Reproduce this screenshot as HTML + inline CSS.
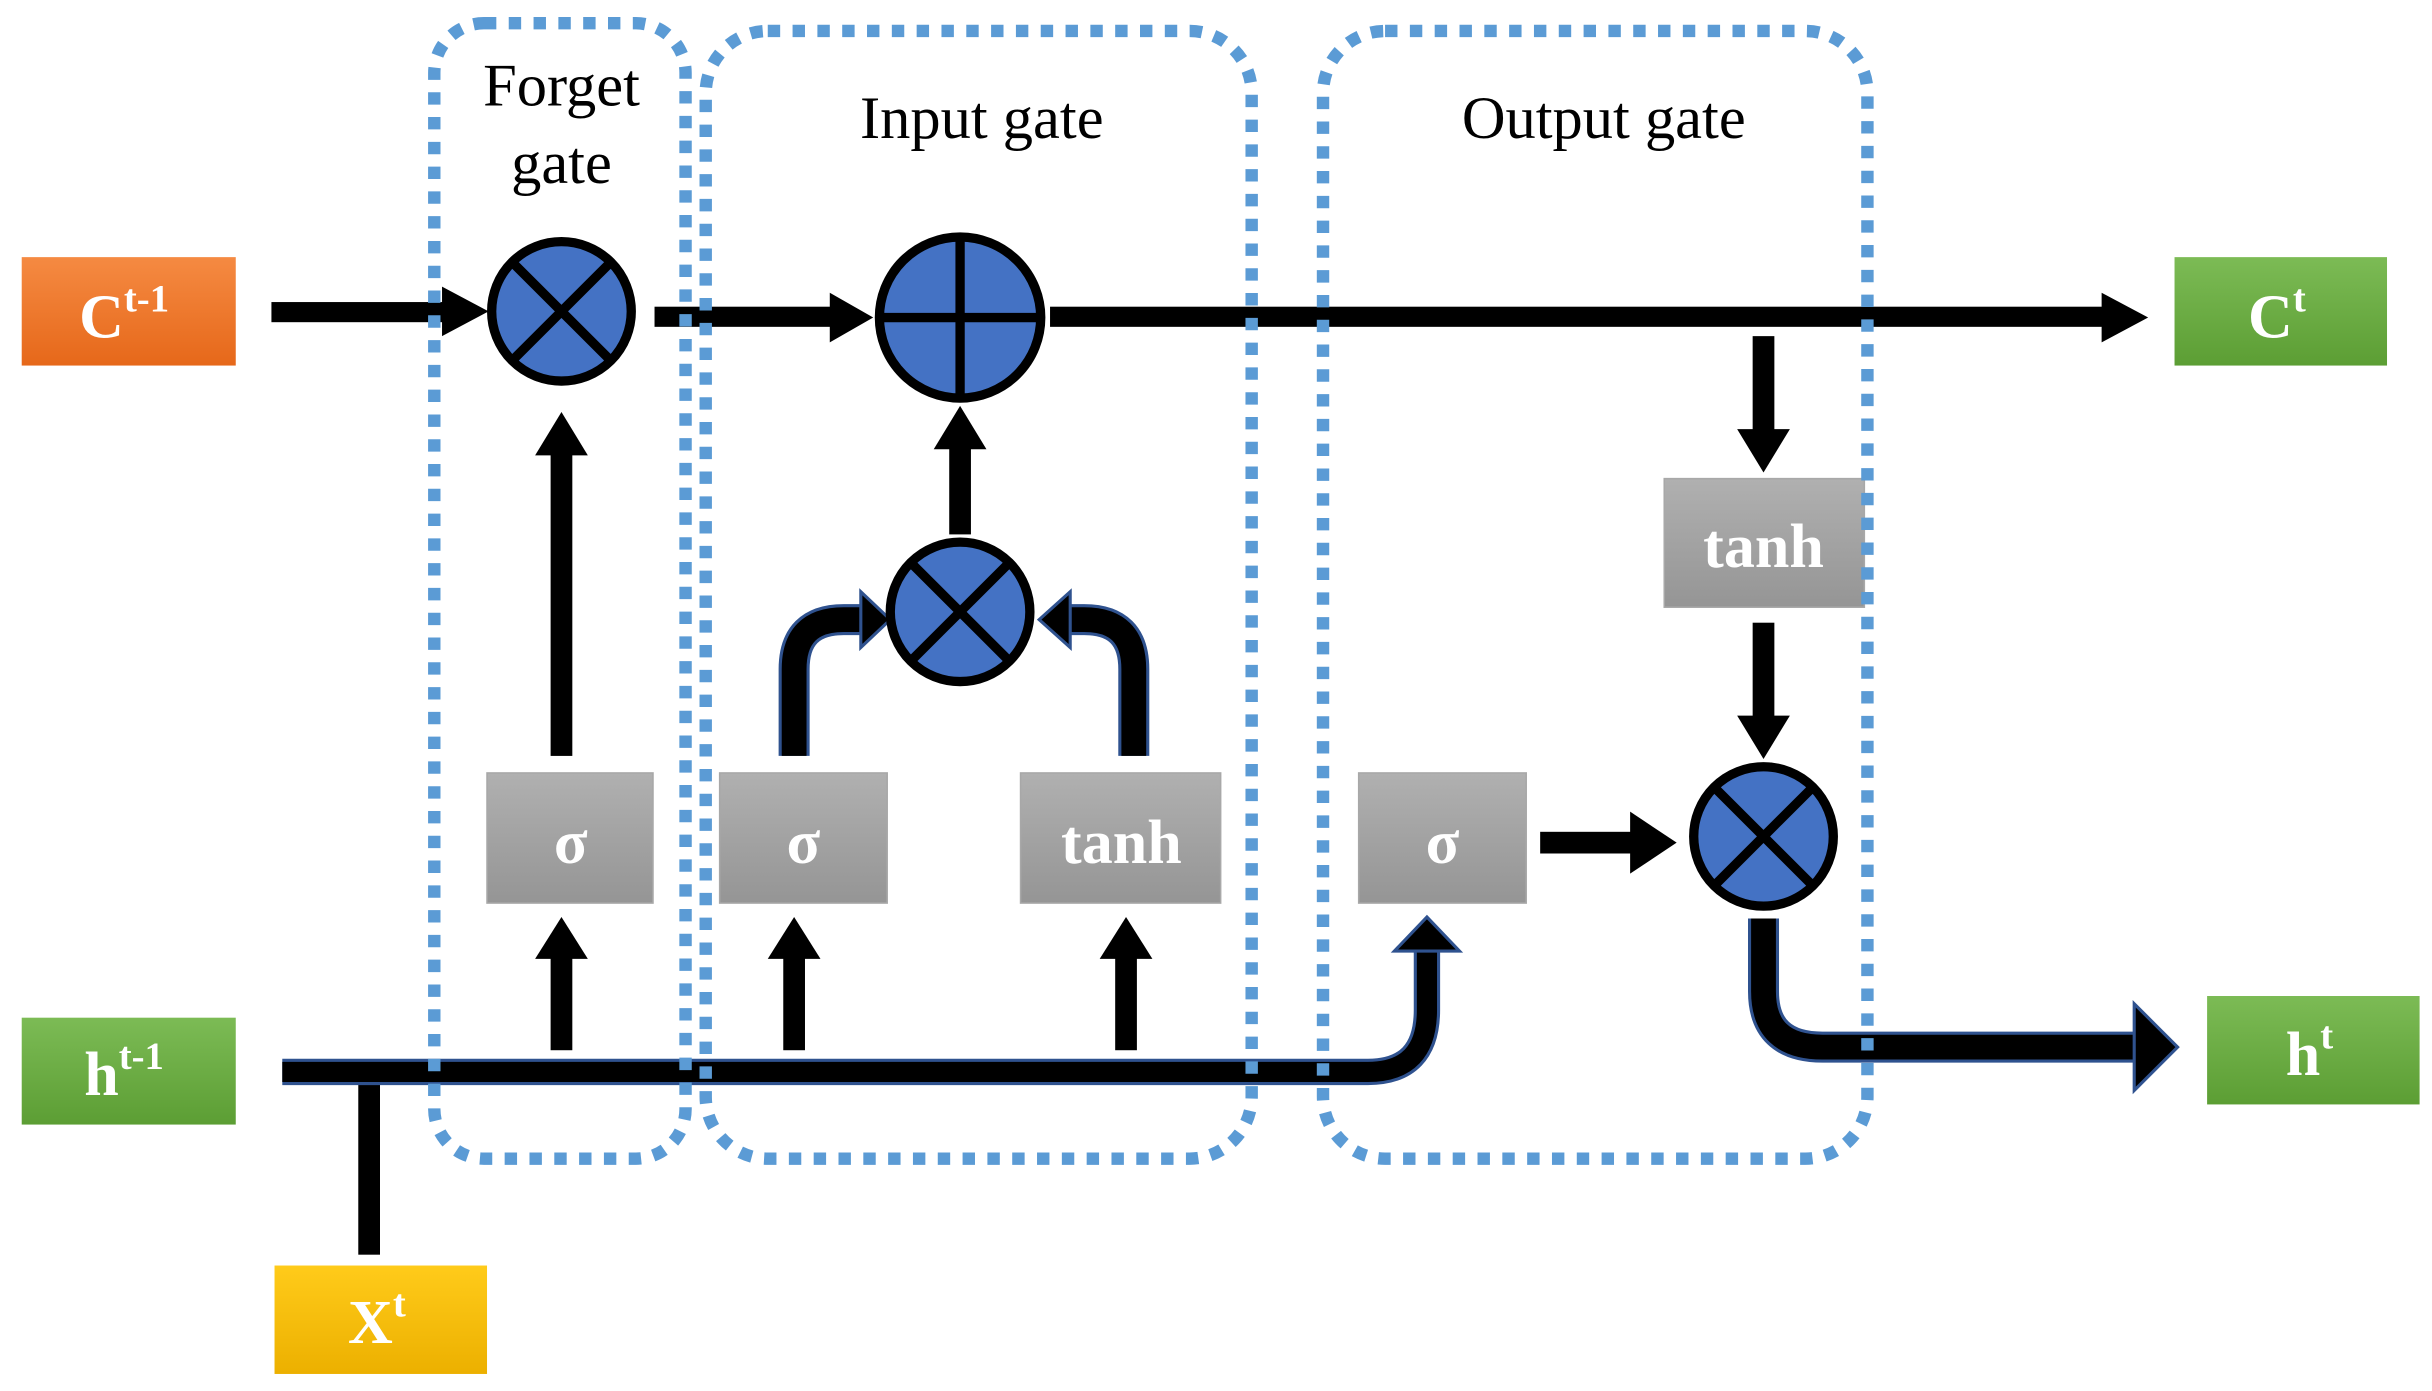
<!DOCTYPE html>
<html><head><style>html,body{margin:0;padding:0;background:#fff}svg{display:block}</style></head>
<body>
<svg width="2432" height="1391" viewBox="0 0 1568 898" preserveAspectRatio="none" xmlns="http://www.w3.org/2000/svg">
<defs>
<linearGradient id="gr" x1="0" y1="0" x2="0" y2="1"><stop offset="0" stop-color="#b0b0b0"/><stop offset="1" stop-color="#959595"/></linearGradient>
<linearGradient id="or" x1="0" y1="0" x2="0" y2="1"><stop offset="0" stop-color="#f58a42"/><stop offset="1" stop-color="#e6681a"/></linearGradient>
<linearGradient id="gn" x1="0" y1="0" x2="0" y2="1"><stop offset="0" stop-color="#7cbb55"/><stop offset="1" stop-color="#5c9e34"/></linearGradient>
<linearGradient id="yl" x1="0" y1="0" x2="0" y2="1"><stop offset="0" stop-color="#ffcb1a"/><stop offset="1" stop-color="#ecb000"/></linearGradient>
</defs>
<g font-family="Liberation Serif, serif" fill="#fff" font-weight="bold" font-size="40" text-anchor="middle">
<rect x="14" y="166" width="138" height="70" fill="url(#or)"/>
<text x="80" y="218">C<tspan font-size="25" dy="-17">t-1</tspan></text>
<rect x="14" y="657" width="138" height="69" fill="url(#gn)"/>
<text x="80" y="707">h<tspan font-size="25" dy="-17">t-1</tspan></text>
<rect x="177" y="817" width="137" height="70" fill="url(#yl)"/>
<text x="243" y="867">X<tspan font-size="25" dy="-17">t</tspan></text>
<rect x="1402" y="166" width="137" height="70" fill="url(#gn)"/>
<text x="1468" y="218">C<tspan font-size="25" dy="-17">t</tspan></text>
<rect x="1423" y="643" width="137" height="70" fill="url(#gn)"/>
<text x="1489" y="694">h<tspan font-size="25" dy="-17">t</tspan></text>
<g stroke="#a8a8a8" stroke-width="1">
<rect x="314" y="499" width="107" height="84" fill="url(#gr)"/>
<rect x="464" y="499" width="108" height="84" fill="url(#gr)"/>
<rect x="658" y="499" width="129" height="84" fill="url(#gr)"/>
<rect x="876" y="499" width="108" height="84" fill="url(#gr)"/>
<rect x="1073" y="309" width="129" height="83" fill="url(#gr)"/>
</g>
<text x="368" y="557">σ</text><text x="518" y="557">σ</text><text x="723" y="557">tanh</text>
<text x="930" y="557">σ</text><text x="1137" y="366">tanh</text>
</g>
<g fill="#000" stroke="none">
<rect x="175" y="195" width="112" height="13"/><polygon points="285,185 315,201 285,217"/>
<rect x="422" y="198" width="115" height="13"/><polygon points="535,189 563,205 535,221"/>
<rect x="677" y="198" width="680" height="13"/><polygon points="1355,189 1385,205 1355,221"/>
<rect x="1130" y="217" width="14" height="62"/><polygon points="1120,277 1154,277 1137,305"/>
<rect x="1130" y="402" width="14" height="62"/><polygon points="1120,462 1154,462 1137,490"/>
<rect x="355" y="292" width="14" height="196"/><polygon points="345,294 379,294 362,266"/>
<rect x="612" y="288" width="14" height="57"/><polygon points="602,290 636,290 619,262"/>
<rect x="355" y="617" width="14" height="61"/><polygon points="345,619 379,619 362,592"/>
<rect x="505" y="617" width="14" height="61"/><polygon points="495,619 529,619 512,592"/>
<rect x="719" y="617" width="14" height="61"/><polygon points="709,619 743,619 726,592"/>
<rect x="993" y="537" width="60" height="14"/><polygon points="1051,524 1081,544 1051,564"/>
<rect x="231" y="697" width="14" height="113"/>
</g>
<g fill="none" stroke-linejoin="round">
<path d="M182 692 H882 Q920 692 920 652 V612" stroke="#2f528f" stroke-width="17"/>
<path d="M182 692 H882 Q920 692 920 652 V612" stroke="#000" stroke-width="13"/>
<path d="M512 488 V432 Q512 400 544 400 H560" stroke="#2f528f" stroke-width="20"/>
<path d="M512 488 V432 Q512 400 544 400 H560" stroke="#000" stroke-width="16"/>
<path d="M731 488 V432 Q731 400 699 400 H686" stroke="#2f528f" stroke-width="20"/>
<path d="M731 488 V432 Q731 400 699 400 H686" stroke="#000" stroke-width="16"/>
<path d="M1137 593 V640 Q1137 676 1175 676 H1380" stroke="#2f528f" stroke-width="20"/>
<path d="M1137 593 V640 Q1137 676 1175 676 H1380" stroke="#000" stroke-width="16"/>
</g>
<g fill="#000" stroke="#2f528f" stroke-width="2">
<polygon points="899,614 941,614 920,592"/>
<polygon points="555,382 555,418 574,400"/>
<polygon points="690,382 690,418 670,400"/>
<polygon points="1376,648 1376,704 1404,676"/>
</g>
<g fill="#4472c4" stroke="#000" stroke-width="6">
<circle cx="362" cy="201" r="45"/><path d="M330 169 L394 233 M394 169 L330 233"/>
<circle cx="619" cy="205" r="52"/><path d="M567 205 H671 M619 153 V257"/>
<circle cx="619" cy="395" r="45"/><path d="M587 363 L651 427 M651 363 L587 427"/>
<circle cx="1137" cy="540" r="45"/><path d="M1105 508 L1169 572 M1169 508 L1105 572"/>
</g>
<g fill="none" stroke="#5b9bd5" stroke-width="8" stroke-dasharray="8 8">
<rect x="280" y="15" width="162" height="733" rx="32"/>
<rect x="455" y="20" width="352" height="728" rx="40"/>
<rect x="853" y="20" width="351" height="728" rx="40"/>
</g>
<g font-family="Liberation Serif, serif" font-size="39" fill="#000" text-anchor="middle">
<text x="362" y="68">Forget</text><text x="362" y="118">gate</text>
<text x="633" y="89">Input gate</text>
<text x="1034" y="89">Output gate</text>
</g>
</svg>
</body></html>
